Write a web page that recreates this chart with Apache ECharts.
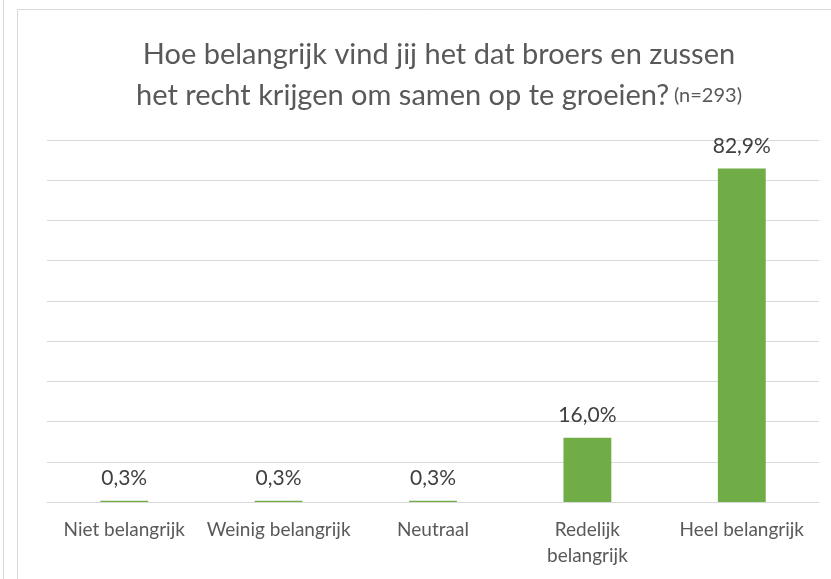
<!DOCTYPE html>
<html>
<head>
<meta charset="utf-8">
<script src="https://cdn.jsdelivr.net/npm/echarts@6/dist/echarts.min.js"></script>
<style>
  html, body { margin: 0; padding: 0; background: #fff; }
  #chart { width: 831px; height: 579px; }
</style>
</head>
<body>
<div id="chart"></div>
<script>
const categories = ['Niet belangrijk', 'Weinig belangrijk', 'Neutraal', 'Redelijk\nbelangrijk', 'Heel belangrijk']
const percentages = [0.3, 0.3, 0.3, 16.0, 82.9]
const titleLines = ['Hoe belangrijk vind jij het dat broers en zussen', 'het recht krijgen om samen op te groeien?']
const titleNote = '(n=293)'

const chart = echarts.init(document.getElementById('chart'))

chart.setOption({
  animation: false,
  textStyle: { fontFamily: 'Lato' },
  title: {
    text: '{t|' + titleLines[0] + '}\n{t|' + titleLines[1] + '} {n|' + titleNote + '}',
    left: 434,
    top: 29,
    textAlign: 'center',
    textStyle: {
      fontWeight: 'normal',
      rich: {
        t: { fontSize: 29, color: '#595959', lineHeight: 41, fontFamily: 'Lato', fontWeight: 'normal' },
        n: { fontSize: 20, color: '#595959', lineHeight: 41, fontFamily: 'Lato', fontWeight: 'normal' }
      }
    }
  },
  graphic: [
    { type: 'line', shape: { x1: 3.5, y1: 0, x2: 3.5, y2: 579 }, style: { stroke: '#d9d9d9', lineWidth: 1 } },
    { type: 'polyline', shape: { points: [[17.5, 579], [17.5, 9.5], [831, 9.5]] }, style: { stroke: '#d9d9d9', lineWidth: 1, fill: null } }
  ],
  grid: { left: 47, right: 12, top: 140, bottom: 77 },
  xAxis: {
    type: 'category',
    data: categories,
    axisTick: { show: false },
    axisLine: { lineStyle: { color: '#d9d9d9', width: 1 } },
    axisLabel: { color: '#595959', fontSize: 19, margin: 15, lineHeight: 26, interval: 0 }
  },
  yAxis: {
    type: 'value',
    min: 0,
    max: 90,
    interval: 10,
    axisLabel: { show: false },
    axisLine: { show: false },
    axisTick: { show: false },
    splitLine: { lineStyle: { color: '#d9d9d9', width: 1 } }
  },
  series: [{
    type: 'bar',
    data: percentages,
    barWidth: '31%',
    itemStyle: { color: '#70ad47' },
    label: {
      show: true,
      position: 'top',
      distance: 12,
      color: '#404040',
      fontSize: 21,
      formatter: p => p.value.toFixed(1).replace('.', ',') + '%'
    }
  }]
})
</script>
</body>
</html>
